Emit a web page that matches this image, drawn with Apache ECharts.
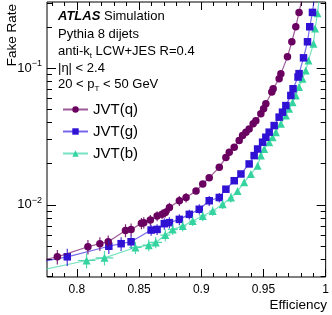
<!DOCTYPE html>
<html>
<head>
<meta charset="utf-8">
<title>JVT fake rate vs efficiency</title>
<script src="https://cdn.jsdelivr.net/npm/echarts@6/dist/echarts.min.js"></script>
<style>
  html, body { margin: 0; padding: 0; background: #fff; }
  #chart { width: 332px; height: 315px; }
</style>
</head>
<body>
<div id="chart"></div>
<script>
// efficiency (x) / fake rate (y)
const qEff = [0.770, 0.7843, 0.8089, 0.8185, 0.8252, 0.8391, 0.8436, 0.8519, 0.8538, 0.8591,
  0.8645, 0.8685, 0.8711, 0.8744, 0.8824, 0.8878, 0.8958, 0.9012, 0.9064, 0.9145,
  0.9198, 0.9225, 0.9265, 0.9305, 0.9332, 0.9359, 0.9385, 0.9417, 0.9439, 0.9479,
  0.9501, 0.9519, 0.9567, 0.9578, 0.9626, 0.9640, 0.9693, 0.9728, 0.9760, 0.9786, 0.9812];
const qFake = [0.0039, 0.00416, 0.00493, 0.00519, 0.00536, 0.00649, 0.00660, 0.00731, 0.00740, 0.00773,
  0.00828, 0.00852, 0.00877, 0.00954, 0.0107, 0.0113, 0.0126, 0.0142, 0.0158, 0.0188,
  0.0222, 0.0242, 0.0264, 0.0295, 0.0321, 0.0340, 0.0359, 0.0391, 0.0413, 0.0463,
  0.0504, 0.0548, 0.0668, 0.0707, 0.0838, 0.0912, 0.121, 0.156, 0.201, 0.256, 0.33];
// vertical error bars (only the low-efficiency points, the rest are hidden by the markers)
const qErr = [0, 0.0005, 0.0006, 0.0006, 0.0006, 0.0007, 0.0007, 0.0007, 0.0007, 0.0007,
  0.0007, 0.0007, 0.0007, 0.0008, 0.0009, 0.0009];

const gEff = [0.770, 0.7923, 0.8257, 0.8356, 0.8436, 0.8597, 0.8645, 0.8703, 0.8744, 0.8824,
  0.8904, 0.8984, 0.9064, 0.9145, 0.9198, 0.9265, 0.9319, 0.9385, 0.9425, 0.9453,
  0.9493, 0.9519, 0.9546, 0.9586, 0.9626, 0.9653, 0.9680, 0.9720, 0.9738, 0.9778,
  0.9786, 0.9822, 0.9854, 0.9872, 0.9894, 0.9910];
const gFake = [0.0038, 0.00416, 0.00497, 0.00519, 0.00536, 0.00653, 0.00660, 0.00727, 0.00740, 0.00782,
  0.00851, 0.00927, 0.0107, 0.0113, 0.0130, 0.0150, 0.0168, 0.0199, 0.0229, 0.0256,
  0.0287, 0.0312, 0.0340, 0.0380, 0.0438, 0.0476, 0.0532, 0.0631, 0.0707, 0.0861,
  0.0912, 0.119, 0.156, 0.201, 0.256, 0.33];
const gErr = [0, 0.0006, 0.0006, 0.0006, 0.0006, 0.0006, 0.0006, 0.0007, 0.0007, 0.0007,
  0.0007, 0.0008, 0.0009, 0.0009];

const bEff = [0.770, 0.8078, 0.8222, 0.8471, 0.8578, 0.8634, 0.8711, 0.8771, 0.8851, 0.8931,
  0.9012, 0.9092, 0.9172, 0.9239, 0.9292, 0.9345, 0.9399, 0.9453, 0.9479, 0.9506,
  0.9546, 0.9573, 0.9600, 0.9640, 0.9680, 0.9706, 0.9734, 0.9760, 0.9786, 0.9814,
  0.9840, 0.9862, 0.9902, 0.9915, 0.9934, 0.9950];
const bFake = [0.0033, 0.00391, 0.00409, 0.00487, 0.00506, 0.00530, 0.0060, 0.0066, 0.00698, 0.0076,
  0.00828, 0.0090, 0.0101, 0.0113, 0.0126, 0.0146, 0.0168, 0.0193, 0.0229, 0.0256,
  0.0287, 0.0312, 0.0340, 0.0391, 0.0450, 0.0504, 0.0564, 0.0631, 0.0727, 0.0838,
  0.0963, 0.114, 0.151, 0.195, 0.252, 0.33];
const bErr = [0, 0.0005, 0.0005, 0.0005, 0.0005, 0.0005, 0.0006, 0.0006, 0.0006, 0.0006,
  0.0007, 0.0007, 0.0008, 0.0009];
// b-jets also show horizontal bars
const bEffErr = [0, 0.007, 0.007, 0.005, 0.005, 0.005, 0.004, 0.004, 0.003, 0.003,
  0.003, 0.003, 0.002, 0.002];

const seriesNames = ['JVT(q)', 'JVT(g)', 'JVT(b)'];

// axis ticks
const xMajor = [0.8, 0.85, 0.9, 0.95, 1.0];
const xMinor = [0.78, 0.79, 0.81, 0.82, 0.83, 0.84, 0.86, 0.87, 0.88, 0.89,
  0.91, 0.92, 0.93, 0.94, 0.96, 0.97, 0.98, 0.99];
const yMajor = [0.01, 0.1];
const yMinor = [0.003, 0.004, 0.005, 0.006, 0.007, 0.008, 0.009,
  0.02, 0.03, 0.04, 0.05, 0.06, 0.07, 0.08, 0.09, 0.2, 0.3];

const X_MIN = 0.776, X_MAX = 1.0;
const Y_MIN = 0.00296, Y_MAX = 0.305;

const FONT = 'Liberation Sans, Arial, sans-serif';

const chart = echarts.init(document.getElementById('chart'), null, { renderer: 'canvas' });

function zip(xs, ys) {
  return xs.map((x, i) => [x, ys[i]]);
}

function xAxisCfg(pos, ticks, len, labels) {
  return {
    type: 'value', position: pos, min: X_MIN, max: X_MAX,
    axisLine: { show: false },
    splitLine: { show: false },
    axisTick: { show: true, inside: true, length: len, customValues: ticks,
      lineStyle: { color: '#000', width: 1 } },
    axisLabel: labels ? {
      show: true, customValues: xMajor, margin: 7,
      color: '#000', fontSize: 12, fontFamily: FONT,
      formatter: v => String(+v.toFixed(2))
    } : { show: false }
  };
}

function yAxisCfg(pos, ticks, len, labels) {
  return {
    type: 'log', logBase: 10, position: pos, min: Y_MIN, max: Y_MAX,
    axisLine: { show: false },
    splitLine: { show: false },
    axisTick: { show: true, inside: true, length: len, customValues: ticks,
      lineStyle: { color: '#000', width: 1 } },
    axisLabel: labels ? {
      show: true, customValues: yMajor, margin: 5,
      color: '#000', fontFamily: FONT,
      formatter: v => '{b|10}{s|\u2212' + Math.abs(Math.round(Math.log10(v))) + '}',
      rich: {
        b: { fontSize: 13, fontFamily: FONT, color: '#000' },
        s: { fontSize: 9, fontFamily: FONT, color: '#000', padding: [0, 0, 9, 0] }
      }
    } : { show: false }
  };
}

const markers = [
  { symbol: 'circle', size: 7.5, color: '#6a0060', line: 'rgba(106,0,96,0.65)' },
  { symbol: 'rect', size: 7.5, color: '#2f12d4', line: 'rgba(60,40,225,0.7)' },
  { symbol: 'triangle', size: 8, color: '#34d3a0', line: 'rgba(60,215,165,0.7)' }
];
const allData = [zip(qEff, qFake), zip(gEff, gFake), zip(bEff, bFake)];

// error bars as broken line segments: [lo, hi, gap, ...]
function errSegments(xs, ys, ye, xe) {
  const out = [];
  ye.forEach((e, i) => {
    if (!(e > 0)) return;
    out.push([xs[i], ys[i] - e], [xs[i], ys[i] + e], '-');
    if (xe && xe[i] > 0) {
      out.push([xs[i] - xe[i], ys[i]], [xs[i] + xe[i], ys[i]], '-');
    }
  });
  return out;
}
const errSets = [errSegments(qEff, qFake, qErr), errSegments(gEff, gFake, gErr),
  errSegments(bEff, bFake, bErr, bEffErr)];

const lineSeries = seriesNames.map((name, i) => ({
  name: name,
  type: 'line',
  xAxisIndex: 0, yAxisIndex: 0,
  data: allData[i],
  symbol: markers[i].symbol,
  symbolSize: markers[i].size,
  showAllSymbol: true,
  clip: true,
  itemStyle: { color: markers[i].color },
  lineStyle: { color: markers[i].line, width: 1.2 },
  z: 4 - i
}));

// same names as the curves so the legend treats them together
const errSeries = seriesNames.map((name, i) => ({
  name: name,
  type: 'line',
  xAxisIndex: 0, yAxisIndex: 0,
  data: errSets[i],
  symbol: 'none',
  connectNulls: false,
  clip: true,
  itemStyle: { color: markers[i].color },
  lineStyle: { color: markers[i].color, width: 1.2, opacity: 0.85 },
  z: 5
}));

chart.setOption({
  animation: false,
  backgroundColor: '#fff',
  grid: {
    left: 47, right: 5, top: 2, bottom: 38,
    show: true, borderColor: '#000', borderWidth: 1, backgroundColor: 'transparent'
  },
  legend: {
    orient: 'vertical', left: 62, top: 102, padding: 0,
    itemWidth: 25, itemHeight: 8, itemGap: 7,
    textStyle: { fontSize: 15, fontFamily: FONT, color: '#000' },
    data: seriesNames
  },
  xAxis: [
    xAxisCfg('bottom', xMajor, 8, true),
    xAxisCfg('bottom', xMinor, 4, false),
    xAxisCfg('top', xMajor, 8, false),
    xAxisCfg('top', xMinor, 4, false)
  ],
  yAxis: [
    yAxisCfg('left', yMajor, 9, true),
    yAxisCfg('left', yMinor, 5, false),
    yAxisCfg('right', yMajor, 9, false),
    yAxisCfg('right', yMinor, 5, false)
  ],
  series: lineSeries.concat(errSeries),
  graphic: [
    {
      type: 'text', x: 12, y: 4, rotation: Math.PI / 2,
      style: { text: 'Fake Rate', font: '13.5px ' + FONT, fill: '#000',
        align: 'right', verticalAlign: 'middle' }
    },
    {
      type: 'text', x: 327, y: 305,
      style: { text: 'Efficiency', font: '13.5px ' + FONT, fill: '#000',
        align: 'right', verticalAlign: 'middle' }
    },
    {
      type: 'text', x: 58, y: 16,
      style: { text: '{a|ATLAS} Simulation', font: '13px ' + FONT, fill: '#000',
        verticalAlign: 'middle',
        rich: { a: { font: 'italic bold 13px ' + FONT, fill: '#000' } } }
    },
    {
      type: 'text', x: 58, y: 34,
      style: { text: 'Pythia 8 dijets', font: '13px ' + FONT, fill: '#000', verticalAlign: 'middle' }
    },
    {
      type: 'text', x: 58, y: 51,
      style: { text: 'anti-k{t|t} LCW+JES R=0.4', font: '13px ' + FONT, fill: '#000',
        verticalAlign: 'middle',
        rich: { t: { font: '8px ' + FONT, fill: '#000', padding: [9, 0, 0, 0] } } }
    },
    {
      type: 'text', x: 58, y: 68,
      style: { text: '|\u03b7| < 2.4', font: '13px ' + FONT, fill: '#000', verticalAlign: 'middle' }
    },
    {
      type: 'text', x: 58, y: 84,
      style: { text: '20 < p{t|T} < 50 GeV', font: '13px ' + FONT, fill: '#000',
        verticalAlign: 'middle',
        rich: { t: { font: '8px ' + FONT, fill: '#000', padding: [9, 0, 0, 0] } } }
    }
  ]
});
</script>
</body>
</html>
